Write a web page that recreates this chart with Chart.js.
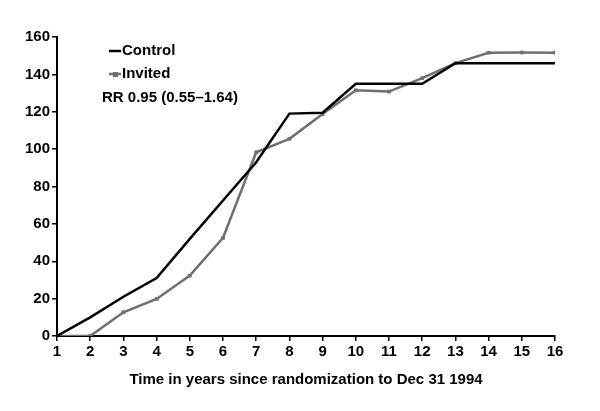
<!DOCTYPE html>
<html>
<head>
<meta charset="utf-8">
<script src="https://cdn.jsdelivr.net/npm/chart.js@4"></script>
<style>
  html,body{margin:0;padding:0;background:#fff;}
  #wrap{width:600px;height:411px;position:relative;}
</style>
</head>
<body>
<div id="wrap"><canvas id="c" width="600" height="411"></canvas></div>
<script>
// values
const years = [1,2,3,4,5,6,7,8,9,10,11,12,13,14,15,16];
const control = [0,10,21,31,52,72.5,93,119,119.5,135,135,135,146,146,146,146];
const invited = [0,0,12.7,19.8,32.3,52.5,98.3,105.5,118.8,131.5,130.8,138,146,151.6,151.7,151.6];
const yTicks = [0,20,40,60,80,100,120,140,160];
const legendLabels = ['Control','Invited'];
const rrText = 'RR 0.95 (0.55\u20131.64)';
const xTitle = 'Time in years since randomization to Dec 31 1994';

const FONT = "'Liberation Sans', Arial, sans-serif";
const GRAY = '#6f6f6f';

function pts(arr){ return years.map((x,i)=>({x:x,y:arr[i]})); }

// legend drawn inside the plot, top-left
const insideLegend = {
  id:'insideLegend',
  afterDraw(chart){
    const ctx = chart.ctx;
    const left = chart.chartArea.left;
    const top = chart.chartArea.top;
    ctx.save();
    ctx.font = 'bold 15px ' + FONT;
    ctx.textBaseline = 'middle';
    ctx.fillStyle = '#000';
    // Control
    let y = top + 14;
    ctx.strokeStyle = '#000'; ctx.lineWidth = 2.5;
    ctx.beginPath(); ctx.moveTo(left+52,y); ctx.lineTo(left+64,y); ctx.stroke();
    ctx.fillText(legendLabels[0], left+65, y);
    // Invited
    y = top + 37;
    ctx.strokeStyle = GRAY; ctx.lineWidth = 2.5;
    ctx.beginPath(); ctx.moveTo(left+52,y); ctx.lineTo(left+64,y); ctx.stroke();
    ctx.fillStyle = GRAY; ctx.fillRect(left+56,y-2,5,5);
    ctx.fillStyle = '#000';
    ctx.fillText(legendLabels[1], left+65, y);
    // RR
    ctx.fillText(rrText, left+45, top + 61);
    ctx.restore();
  }
};

new Chart(document.getElementById('c'), {
  type:'line',
  data:{
    datasets:[
      {label:legendLabels[0], data:pts(control), borderColor:'#000', borderWidth:2.5,
       pointRadius:0, tension:0, fill:false},
      {label:legendLabels[1], data:pts(invited), borderColor:GRAY, borderWidth:2.5,
       pointStyle:'rect', pointRadius:2.6, pointBackgroundColor:GRAY, pointBorderWidth:0,
       tension:0, fill:false}
    ]
  },
  options:{
    responsive:false,
    animation:false,
    layout:{padding:{top:37,right:45,bottom:18}},
    plugins:{legend:{display:false}, tooltip:{enabled:false}},
    scales:{
      x:{
        type:'linear', min:1, max:16,
        afterBuildTicks(s){ s.ticks = years.map(v=>({value:v})); },
        afterFit(s){ s.height = 57; },
        grid:{drawOnChartArea:false, drawTicks:true, tickLength:5, color:'#000', lineWidth:1.5},
        border:{color:'#000', width:2},
        ticks:{color:'#000', font:{family:FONT, size:15, weight:'bold'}, padding:2, maxRotation:0},
        title:{display:true, text:xTitle, color:'#000', font:{family:FONT, size:15, weight:'bold'}, padding:{top:10}}
      },
      y:{
        min:0, max:160,
        afterBuildTicks(s){ s.ticks = yTicks.map(v=>({value:v})); },
        afterFit(s){ s.width = 57; },
        grid:{drawOnChartArea:false, drawTicks:true, tickLength:5, color:'#000', lineWidth:1.5},
        border:{color:'#000', width:2},
        ticks:{color:'#000', font:{family:FONT, size:15, weight:'bold'}, padding:2}
      }
    }
  },
  plugins:[insideLegend]
});
</script>
</body>
</html>
